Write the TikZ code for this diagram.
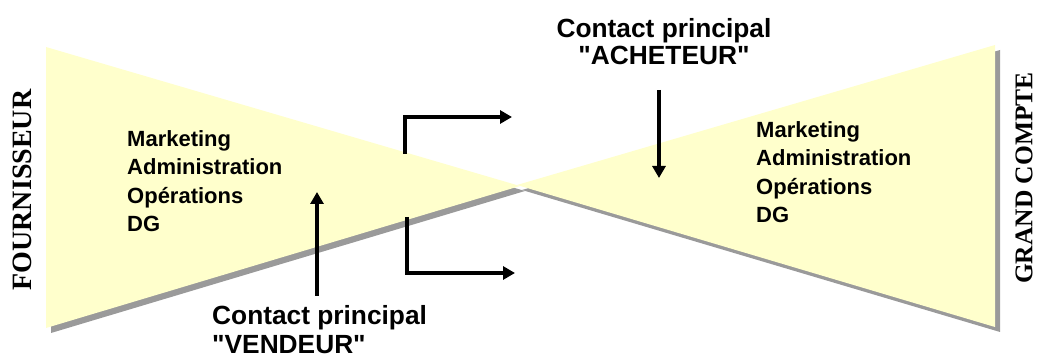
\documentclass[tikz,border=0pt]{standalone}
\usepackage{fontspec}
\setmainfont{Liberation Serif}
\setsansfont{Liberation Sans}
\usepackage{tikz}
\usetikzlibrary{arrows.meta}
\definecolor{funnelfill}{HTML}{FFFFCC}
\definecolor{funnelshade}{HTML}{9A9A9A}

\begin{document}
\begin{tikzpicture}[x=1pt,y=-1pt,
    dept/.style={font=\sffamily\bfseries\fontsize{22}{28.5}\selectfont, align=left, inner sep=0pt},
    contact/.style={font=\sffamily\bfseries\fontsize{26.3}{#1}\selectfont, inner sep=0pt},
    side/.style={font=\rmfamily\bfseries\fontsize{#1}{30}\selectfont, rotate=90, inner sep=0pt},
    flow/.style={line width=4pt, -{Triangle[length=12pt,width=13pt]}}]
    \useasboundingbox (0,0) rectangle (1037,358);

    % shadows, then the two funnels on top
    \fill[funnelshade] (51,52) -- (525,191) -- (51,333) -- cycle;
    \fill[funnelshade] (522,190) -- (1000,50) -- (1000,332) -- cycle;
    \fill[funnelfill] (46,47) -- (520,186) -- (46,328) -- cycle;
    \fill[funnelfill] (517,185) -- (995,45) -- (995,327) -- cycle;

    \node[side=28] (fournisseur) at (22,190) {FOURNISSEUR};
    \node[side=25.5] (grandcompte) at (1024,178) {GRAND COMPTE};

    \node[dept, anchor=north west] (deptfour) at (127,130) {Marketing\\Administration\\Opérations\\DG};
    \node[dept, anchor=north west] (deptclient) at (756,121) {Marketing\\Administration\\Opérations\\DG};

    \node[contact=27, align=center, anchor=north] (acheteur) at (664,18) {Contact principal\\\textquotedbl ACHETEUR\textquotedbl};
    \node[contact=29, align=left, anchor=north west] (vendeur) at (212,305) {Contact principal\\\textquotedbl VENDEUR\textquotedbl};

    \coordinate (acheteur-from) at (659,90);
    \coordinate (acheteur-to) at (659,178);
    \coordinate (vendeur-from) at (317,296);
    \coordinate (vendeur-to) at (317,192);
    \draw[flow] (acheteur-from) -- (acheteur-to);
    \draw[flow] (vendeur-from) -- (vendeur-to);

    \coordinate (haut-from) at (405,154);
    \coordinate (haut-to) at (512,117);
    \coordinate (bas-from) at (407,217);
    \coordinate (bas-to) at (515,273);
    \draw[flow] (haut-from) |- (haut-to);
    \draw[flow] (bas-from) |- (bas-to);
\end{tikzpicture}
\end{document}
